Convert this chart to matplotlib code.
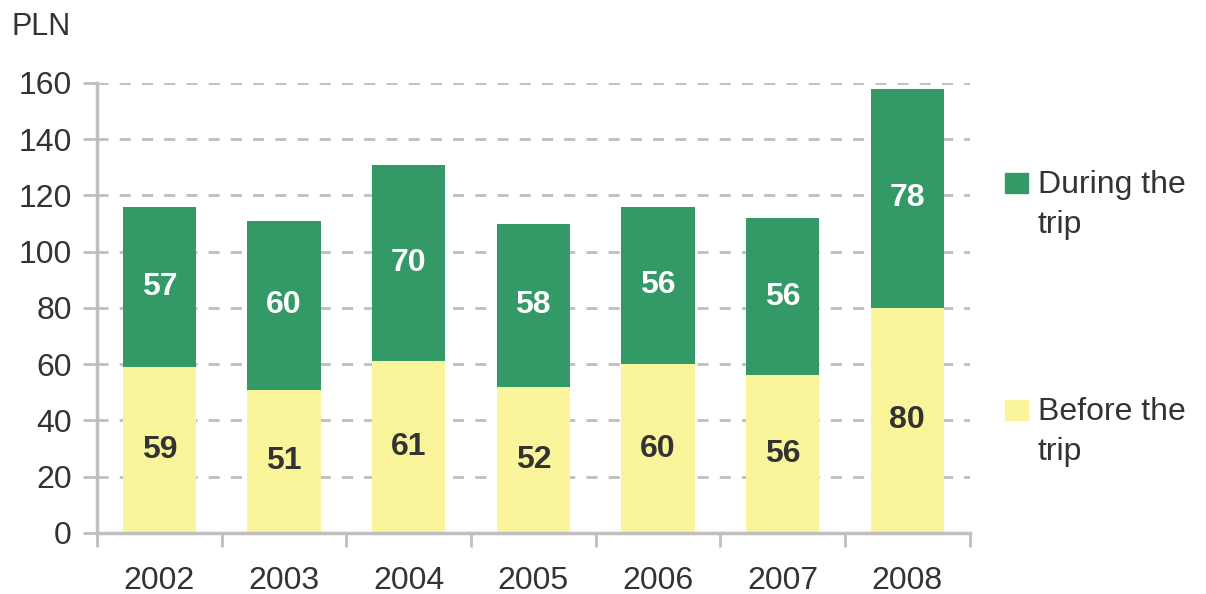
import numpy as np
from matplotlib import pyplot as plt
from matplotlib.patches import Rectangle

# data
years = ["2002", "2003", "2004", "2005", "2006", "2007", "2008"]
before = [59, 51, 61, 52, 60, 56, 80]
during = [57, 60, 70, 58, 56, 56, 78]
yticks = [0, 20, 40, 60, 80, 100, 120, 140, 160]

green = "#339966"
yellow = "#FAF59B"
grey = "#BFBFBF"
txt = "#333333"

plt.rcParams['font.family'] = ['Liberation Sans', 'DejaVu Sans']

fig = plt.figure(figsize=(12.06, 5.94), dpi=100)
ax = fig.add_axes([0.0804, 0.1027, 0.7236, 0.7576])

x = np.arange(len(years))
ax.bar(x, before, width=0.59, color=yellow, zorder=2)
ax.bar(x, during, width=0.59, bottom=before, color=green, zorder=2)

# labels in the middle of each segment
for i in range(len(years)):
    ax.text(x[i], before[i] / 2, str(before[i]), ha="center", va="center",
            fontsize=23, fontweight="bold", color=txt, zorder=3)
    ax.text(x[i], before[i] + during[i] / 2, str(during[i]), ha="center", va="center",
            fontsize=23, fontweight="bold", color="white", zorder=3)

ax.set_xlim(-0.5, len(years) - 0.5)
ax.set_ylim(0, 160)
ax.set_yticks(yticks)
ax.set_yticklabels([str(v) for v in yticks], fontsize=23, color=txt)
ax.set_xticks(x)
ax.set_xticklabels(years, fontsize=23, color=txt)
ax.tick_params(axis="x", length=0, pad=24)
# category boundary ticks
ax.set_xticks(np.arange(len(years) + 1) - 0.5, minor=True)
ax.tick_params(axis="x", which="minor", length=10, width=2, color=grey)
ax.tick_params(axis="y", length=10, width=2, color=grey, pad=8)

ax.yaxis.grid(True, linestyle=(0, (4, 4)), color=grey, linewidth=2, zorder=0)
ax.set_axisbelow(True)
for s in ["top", "right"]:
    ax.spines[s].set_visible(False)
for s in ["left", "bottom"]:
    ax.spines[s].set_color(grey)
    ax.spines[s].set_linewidth(2.5)

fig.text(12 / 1206, 1 - 27 / 594, "PLN", fontsize=22, color=txt, ha="left", va="center")

# legend drawn by hand to match the layout
fig.patches.append(Rectangle((1005 / 1206, 1 - 193 / 594), 23 / 1206, 20 / 594,
                             transform=fig.transFigure, color=green))
fig.text(1038 / 1206, 1 - 193 / 594, "During the", fontsize=23, color=txt,
         ha="left", va="baseline")
fig.text(1038 / 1206, 1 - 233 / 594, "trip", fontsize=23, color=txt,
         ha="left", va="baseline")
fig.patches.append(Rectangle((1005 / 1206, 1 - 420 / 594), 23 / 1206, 20 / 594,
                             transform=fig.transFigure, color=yellow))
fig.text(1038 / 1206, 1 - 420 / 594, "Before the", fontsize=23, color=txt,
         ha="left", va="baseline")
fig.text(1038 / 1206, 1 - 460 / 594, "trip", fontsize=23, color=txt,
         ha="left", va="baseline")

fig.savefig("out.png", dpi=100)
